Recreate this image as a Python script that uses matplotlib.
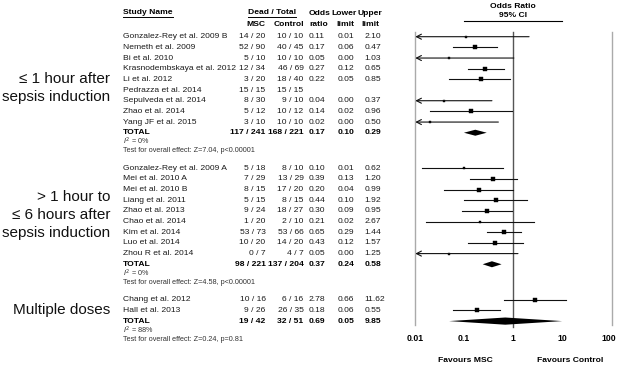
import matplotlib
matplotlib.use("Agg")
import matplotlib.pyplot as plt
import matplotlib.transforms as mtrans
import numpy as np

plt.rcParams['font.family'] = ['Liberation Sans', 'DejaVu Sans']

# ---------------- data ----------------
group_labels = [["\u2264 1 hour after", "sepsis induction"],
                ["> 1 hour to", "\u2264 6 hours after", "sepsis induction"],
                ["Multiple doses"]]

g1_names = ["Gonzalez-Rey et al. 2009 B", "Nemeth et al. 2009", "Bi et al. 2010",
            "Krasnodembskaya et al. 2012", "Li et al. 2012", "Pedrazza et al. 2014",
            "Sepulveda et al. 2014", "Zhao et al. 2014", "Yang JF et al. 2015"]
g1_msc = ["14 / 20", "52 / 90", "5 / 10", "12 / 34", "3 / 20", "15 / 15", "8 / 30", "5 / 12", "3 / 10"]
g1_ctrl = ["10 / 10", "40 / 45", "10 / 10", "46 / 69", "18 / 40", "15 / 15", "9 / 10", "10 / 12", "10 / 10"]
g1_or = [0.11, 0.17, 0.05, 0.27, 0.22, None, 0.04, 0.14, 0.02]
g1_lo = [0.006, 0.06, 0.001, 0.12, 0.05, None, 0.002, 0.02, 0.001]
g1_hi = [2.10, 0.47, 1.03, 0.65, 0.85, None, 0.37, 0.96, 0.50]
g1_w = [4, 25, 4, 30, 10, 0, 4, 7, 4]
g1_total = ["117 / 241", "168 / 221", 0.17, 0.10, 0.29]
g1_stats = ["0%", "Test for overall effect: Z=7.04, p<0.00001"]

g2_names = ["Gonzalez-Rey et al. 2009 A", "Mei et al. 2010 A", "Mei et al. 2010 B",
            "Liang et al. 2011", "Zhao et al. 2013", "Chao et al. 2014", "Kim et al. 2014",
            "Luo et al. 2014", "Zhou R et al. 2014"]
g2_msc = ["5 / 18", "7 / 29", "8 / 15", "5 / 15", "9 / 24", "1 / 20", "53 / 73", "10 / 20", "0 / 7"]
g2_ctrl = ["8 / 10", "13 / 29", "17 / 20", "8 / 15", "18 / 27", "2 / 10", "53 / 66", "14 / 20", "4 / 7"]
g2_or = [0.10, 0.39, 0.20, 0.44, 0.30, 0.21, 0.65, 0.43, 0.05]
g2_lo = [0.014, 0.13, 0.04, 0.10, 0.09, 0.017, 0.29, 0.12, 0.002]
g2_hi = [0.62, 1.20, 0.99, 1.92, 0.95, 2.67, 1.44, 1.57, 1.25]
g2_w = [4, 10, 6, 7, 10, 4, 30, 10, 3]
g2_total = ["98 / 221", "137 / 204", 0.37, 0.24, 0.58]
g2_stats = ["0%", "Test for overall effect: Z=4.58, p<0.00001"]

g3_names = ["Chang et al. 2012", "Hall et al. 2013"]
g3_msc = ["10 / 16", "9 / 26"]
g3_ctrl = ["6 / 16", "26 / 35"]
g3_or = [2.78, 0.18]
g3_lo = [0.66, 0.06]
g3_hi = [11.62, 0.55]
g3_w = [40, 40]
g3_total = ["19 / 42", "32 / 51", 0.69, 0.05, 9.85]
g3_stats = ["88%", "Test for overall effect: Z=0.24, p=0.81"]

xticks = [0.01, 0.1, 1, 10, 100]
xtick_labels = ["0.01", "0.1", "1", "10", "100"]

# ---------------- figure ----------------
W, H = 617, 365
fig = plt.figure(figsize=(W / 100, H / 100), dpi=100)

tab = fig.add_axes([0, 0, 1, 1])
tab.set_xlim(0, W)
tab.set_ylim(H, 0)
tab.axis('off')

fx0, fx1 = 414.7, 611.7
fbot = 326
fr = fig.add_axes([fx0 / W, (H - fbot) / H, (fx1 - fx0) / W, fbot / H])
fr.set_xscale('log')
fr.set_xlim(0.01, 100)
fr.set_ylim(fbot, 0)
for s in fr.spines.values():
    s.set_visible(False)
fr.set_yticks([])
fr.set_xticks(xticks)
fr.set_xticklabels(xtick_labels, fontsize=6.2, fontweight='bold')
fr.xaxis.set_minor_locator(matplotlib.ticker.NullLocator())
fr.tick_params(axis='x', length=0, pad=5.5)
fr.patch.set_alpha(0)
# last tick label sits a little left so it stays inside the picture
last = fr.get_xticklabels()[-1]
last.set_transform(last.get_transform() + mtrans.ScaledTranslation(-3 / 100, 0, fig.dpi_scale_trans))

fs = 6.1
small = 5.2
col_name = 123
col_msc = 265.5
col_ctrl = 303.5
col_or = 309
col_lo = 338
col_hi = 364.5
txtc = '#1a1a1a'

t_sn = tab.text(col_name, 13, "Study Name", fontsize=fs, fontweight='bold', ha='left', va='center')
t_dt = tab.text(271.7, 13, "Dead / Total", fontsize=fs, fontweight='bold', ha='center', va='center')
tab.text(col_msc, 24, "MSC", fontsize=fs, fontweight='bold', ha='right', va='center')
tab.text(col_ctrl + 0.5, 24, "Control", fontsize=fs, fontweight='bold', ha='right', va='center')
tab.text(319.5, 13.5, "Odds", fontsize=fs, fontweight='bold', ha='center', va='center')
tab.text(318.3, 24, "ratio", fontsize=fs, fontweight='bold', ha='center', va='center')
tab.text(344.5, 13.5, "Lower", fontsize=fs, fontweight='bold', ha='center', va='center')
tab.text(345.5, 24, "limit", fontsize=fs, fontweight='bold', ha='center', va='center')
tab.text(370.3, 13.5, "Upper", fontsize=fs, fontweight='bold', ha='center', va='center')
tab.text(370, 24, "limit", fontsize=fs, fontweight='bold', ha='center', va='center')

fig.canvas.draw()
rend = fig.canvas.get_renderer()
inv = tab.transData.inverted()
for t in (t_sn, t_dt):
    bb = t.get_window_extent(rend)
    (xa, _), (xb, _) = inv.transform([(bb.x0, bb.y0), (bb.x1, bb.y0)])
    tab.plot([xa, xb], [16.5, 16.5], color='black', lw=0.7)

fr.text(1, 6, "Odds Ratio", fontsize=fs, fontweight='bold', ha='center', va='center')
fr.text(1, 15.5, "95% CI", fontsize=fs, fontweight='bold', ha='center', va='center')
fr.plot([0.1, 10], [21, 21], color='black', lw=0.8)

fr.plot([0.01, 0.01], [31.5, 325], color='#aaaaaa', lw=1.0, clip_on=False)
fr.plot([100, 100], [31.5, 325], color='#aaaaaa', lw=1.0, clip_on=False)
fr.plot([1, 1], [31.5, 326.5], color='#555555', lw=1.0, clip_on=False, zorder=1)

fr.text(0.105, 360.5, "Favours MSC", fontsize=fs, fontweight='bold', ha='center', va='center', clip_on=False)
fr.text(14.2, 360.5, "Favours Control", fontsize=fs, fontweight='bold', ha='center', va='center', clip_on=False)

data = [
    (g1_names, g1_msc, g1_ctrl, g1_or, g1_lo, g1_hi, g1_w, g1_total, g1_stats),
    (g2_names, g2_msc, g2_ctrl, g2_or, g2_lo, g2_hi, g2_w, g2_total, g2_stats),
    (g3_names, g3_msc, g3_ctrl, g3_or, g3_lo, g3_hi, g3_w, g3_total, g3_stats),
]
label_centres = [88.3, 215, 310]

pitch = 10.67
y = 36.7
for gi, (names, msc, ctrl, ors, los, his, ws, tot, stats) in enumerate(data):
    for i, nm in enumerate(names):
        tab.text(col_name, y, nm, fontsize=fs, ha='left', va='center', color=txtc)
        tab.text(col_msc, y, msc[i], fontsize=fs, ha='right', va='center', color=txtc)
        tab.text(col_ctrl, y, ctrl[i], fontsize=fs, ha='right', va='center', color=txtc)
        if ors[i] is not None:
            tab.text(col_or, y, f"{ors[i]:.2f}", fontsize=fs, ha='left', va='center', color=txtc)
            tab.text(col_lo, y, f"{los[i]:.2f}", fontsize=fs, ha='left', va='center', color=txtc)
            tab.text(col_hi, y, f"{his[i]:.2f}", fontsize=fs, ha='left', va='center', color=txtc)
            lo = los[i]
            if lo < 0.01:
                fr.annotate('', xy=(0.0103, y), xytext=(his[i], y),
                            arrowprops=dict(arrowstyle='->,head_length=0.35,head_width=0.18',
                                            color='#111111', lw=0.8, shrinkA=0, shrinkB=0))
            else:
                fr.plot([lo, his[i]], [y, y], color='#111111', lw=0.8)
            ms = 1.5 + 0.3 * np.sqrt(ws[i])
            fr.plot([ors[i]], [y], marker='s', ms=ms, color='black', mec='black', mew=0.3)
        y += pitch
    tab.text(col_name, y, "TOTAL", fontsize=fs, fontweight='bold', ha='left', va='center')
    tab.text(col_msc, y, tot[0], fontsize=fs, fontweight='bold', ha='right', va='center')
    tab.text(col_ctrl, y, tot[1], fontsize=fs, fontweight='bold', ha='right', va='center')
    tab.text(col_or, y, f"{tot[2]:.2f}", fontsize=fs, fontweight='bold', ha='left', va='center')
    tab.text(col_lo, y, f"{tot[3]:.2f}", fontsize=fs, fontweight='bold', ha='left', va='center')
    tab.text(col_hi, y, f"{tot[4]:.2f}", fontsize=fs, fontweight='bold', ha='left', va='center')
    h = 3.0 if gi < 2 else 3.6
    fr.fill([tot[3], tot[2], tot[4], tot[2]], [y, y - h, y, y + h], color='black', lw=0, zorder=3)
    tab.text(col_name, y + 9, r"$I^2$ = " + stats[0], fontsize=small, ha='left', va='center', color='#333333')
    tab.text(col_name, y + 18, stats[1], fontsize=small, ha='left', va='center', color='#333333')
    y += 35.5

    lines = group_labels[gi]
    n = len(lines)
    ls = 18
    c = label_centres[gi]
    for k, ln in enumerate(lines):
        tab.text(110, c + (k - (n - 1) / 2) * ls, ln, fontsize=11, ha='right', va='center', color='#111111')

fig.savefig("out.png", dpi=100)
